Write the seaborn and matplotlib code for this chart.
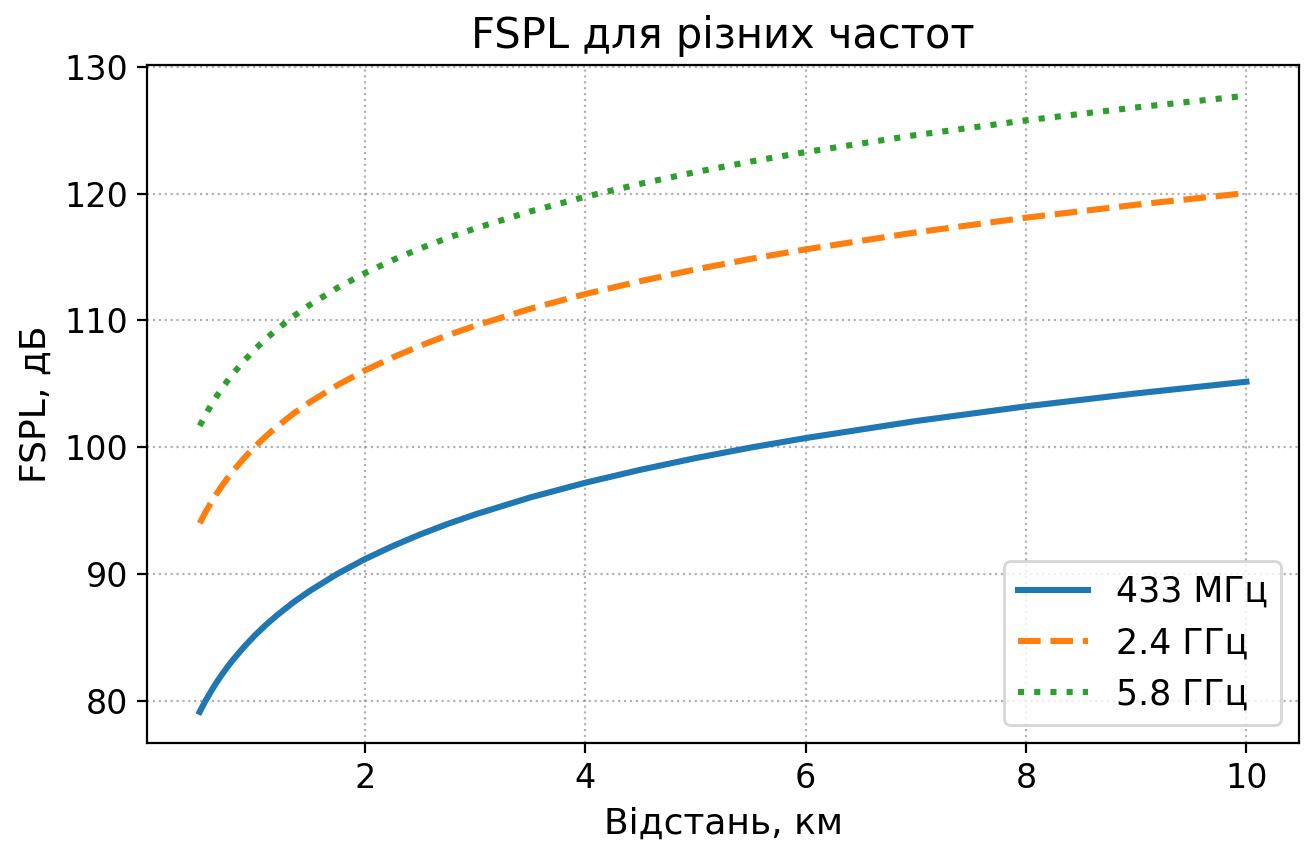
import matplotlib
matplotlib.use("Agg")
import matplotlib.pyplot as plt
import seaborn as sns
import pandas as pd

# Distance samples, km
distance_km = [0.5, 0.55, 0.6, 0.65, 0.7, 0.75, 0.8, 0.9, 1.0, 1.1, 1.2, 1.35,
               1.5, 1.75, 2.0, 2.25, 2.5, 2.75, 3.0, 3.5, 4.0, 4.5, 5.0, 5.5,
               6.0, 7.0, 8.0, 9.0, 10.0]

# Free-space path loss, dB
fspl_433mhz = [79.15, 79.98, 80.73, 81.43, 82.07, 82.67, 83.23, 84.25, 85.17,
               86.00, 86.75, 87.78, 88.69, 90.03, 91.19, 92.21, 93.13, 93.96,
               94.71, 96.05, 97.21, 98.23, 99.15, 99.98, 100.73, 102.07,
               103.23, 104.25, 105.17]
fspl_2_4ghz = [94.02, 94.85, 95.60, 96.30, 96.94, 97.54, 98.10, 99.12, 100.04,
               100.87, 101.62, 102.65, 103.56, 104.90, 106.06, 107.08, 108.00,
               108.83, 109.58, 110.92, 112.08, 113.10, 114.02, 114.85, 115.60,
               116.94, 118.10, 119.12, 120.04]
fspl_5_8ghz = [101.69, 102.52, 103.27, 103.97, 104.61, 105.21, 105.77, 106.79,
               107.71, 108.54, 109.29, 110.32, 111.23, 112.57, 113.73, 114.75,
               115.67, 116.50, 117.25, 118.59, 119.75, 120.77, 121.69, 122.52,
               123.27, 124.61, 125.77, 126.79, 127.71]

series_labels = ["433 МГц", "2.4 ГГц", "5.8 ГГц"]

plt.rcParams["font.family"] = ["DejaVu Sans"]

df = pd.DataFrame({
    "Відстань, км": distance_km * 3,
    "FSPL, дБ": fspl_433mhz + fspl_2_4ghz + fspl_5_8ghz,
    "Частота": [series_labels[0]] * len(distance_km)
               + [series_labels[1]] * len(distance_km)
               + [series_labels[2]] * len(distance_km),
})

fig, ax = plt.subplots(figsize=(6.52, 4.215), dpi=200)
fig.subplots_adjust(left=0.113, right=0.996, top=0.923, bottom=0.119)

palette = ["#1f77b4", "#ff7f0e", "#2ca02c"]
styles = ["-", "--", ":"]
for label, color, ls in zip(series_labels, palette, styles):
    sub = df[df["Частота"] == label]
    sns.lineplot(data=sub, x="Відстань, км", y="FSPL, дБ", ax=ax,
                 color=color, linestyle=ls, linewidth=2.2, label=label,
                 sort=False)

ax.grid(True, linestyle=":", color="gray", alpha=0.6, linewidth=0.8)
ax.set_title("FSPL для різних частот", fontsize=15)
ax.set_xlabel("Відстань, км", fontsize=13)
ax.set_ylabel("FSPL, дБ", fontsize=13)
ax.tick_params(labelsize=12)
ax.legend(loc="lower right", fontsize=12.5)

fig.savefig("out.png", dpi=200)
